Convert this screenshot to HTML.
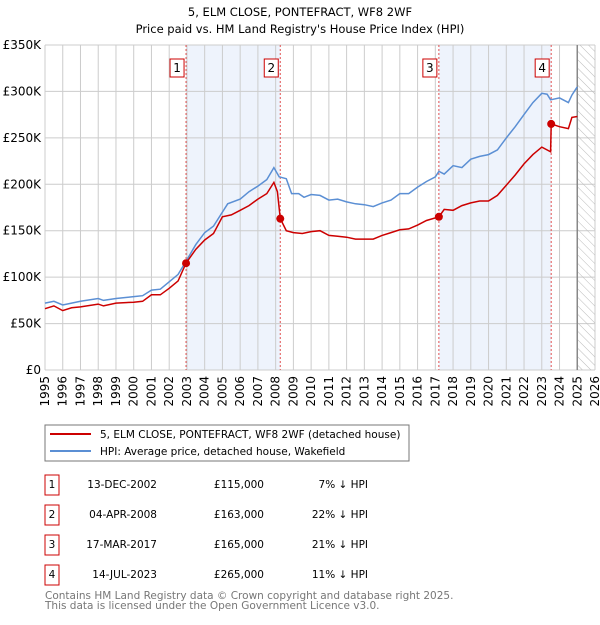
<!DOCTYPE html>
<html><head><meta charset="utf-8"><style>
body{margin:0;background:#fff;font-family:"Liberation Sans","DejaVu Sans",sans-serif}
svg text{font-family:"DejaVu Sans","Liberation Sans",sans-serif}
</style></head><body>
<svg id="c" width="600" height="620" viewBox="0 0 600 620">
<defs><pattern id="hatch" width="6" height="6" patternUnits="userSpaceOnUse" patternTransform="rotate(-45)"><line x1="0" y1="0" x2="0" y2="6" stroke="#bbb" stroke-width="1"/></pattern></defs>
<text x="300" y="16" text-anchor="middle" font-size="11.5">5, ELM CLOSE, PONTEFRACT, WF8 2WF</text>
<text x="300" y="33" text-anchor="middle" font-size="11.5">Price paid vs. HM Land Registry's House Price Index (HPI)</text>
<g id="plot"></g>
<rect x="45" y="425" width="364" height="36" fill="#fff" stroke="#777"/>
<line x1="50" y1="434" x2="91" y2="434" stroke="#cc0000" stroke-width="2"/>
<text x="100" y="438" font-size="10.5">5, ELM CLOSE, PONTEFRACT, WF8 2WF (detached house)</text>
<line x1="50" y1="451" x2="91" y2="451" stroke="#5b8fd4" stroke-width="2"/>
<text x="100" y="455" font-size="10.5">HPI: Average price, detached house, Wakefield</text>
<g id="tbl" font-size="10.5"></g>
<text x="45" y="599" font-size="10.5" fill="#777">Contains HM Land Registry data © Crown copyright and database right 2025.</text>
<text x="45" y="609" font-size="10.5" fill="#777">This data is licensed under the Open Government Licence v3.0.</text>
</svg>
<script>
const hpiYears=[1995,1995.5,1996,1996.5,1997,1998,1998.3,1999,2000,2000.5,2001,2001.5,2002,2002.5,2002.95,2003.5,2004,2004.5,2005,2005.3,2006,2006.5,2007,2007.5,2007.9,2008.2,2008.6,2008.9,2009.3,2009.6,2010,2010.5,2011,2011.5,2012,2012.5,2013,2013.5,2014,2014.5,2015,2015.5,2016,2016.5,2017,2017.2,2017.5,2018,2018.5,2019,2019.5,2020,2020.5,2021,2021.5,2022,2022.5,2023,2023.3,2023.5,2024,2024.5,2024.7,2025];
const hpiValues=[72,74,70,72,74,77,75,77,79,80,86,87,95,103,117,135,148,155,170,179,184,192,198,205,218,208,206,190,190,186,189,188,183,184,181,179,178,176,180,183,190,190,197,203,208,214,211,220,218,227,230,232,237,250,262,275,288,298,297,291,293,288,296,305];
const priceYears=[1995,1995.5,1996,1996.5,1997,1998,1998.3,1999,2000,2000.5,2001,2001.5,2002,2002.5,2002.95,2003.5,2004,2004.5,2005,2005.5,2006,2006.5,2007,2007.5,2007.9,2008.1,2008.26,2008.6,2009,2009.5,2010,2010.5,2011,2011.5,2012,2012.5,2013,2013.5,2014,2014.5,2015,2015.5,2016,2016.5,2017.2,2017.5,2018,2018.5,2019,2019.5,2020,2020.5,2021,2021.5,2022,2022.5,2023,2023.5,2023.53,2024,2024.5,2024.7,2025];
const priceValues=[66,69,64,67,68,71,69,72,73,74,81,81,88,96,115,130,140,147,165,167,172,177,184,190,202,192,163,150,148,147,149,150,145,144,143,141,141,141,145,148,151,152,156,161,165,173,172,177,180,182,182,188,199,210,222,232,240,235,265,262,260,272,273];
const saleYears=[2002.95,2008.26,2017.2,2023.53];
const saleValues=[115,163,165,265];
const saleLabels=["1","2","3","4"];
const saleDates=["13-DEC-2002","04-APR-2008","17-MAR-2017","14-JUL-2023"];
const salePrices=["£115,000","£163,000","£165,000","£265,000"];
const saleHpi=["7% ↓ HPI","22% ↓ HPI","21% ↓ HPI","11% ↓ HPI"];
const yTicks=[0,50,100,150,200,250,300,350];
const yTickLabels=["£0","£50K","£100K","£150K","£200K","£250K","£300K","£350K"];
const xTicks=[1995,1996,1997,1998,1999,2000,2001,2002,2003,2004,2005,2006,2007,2008,2009,2010,2011,2012,2013,2014,2015,2016,2017,2018,2019,2020,2021,2022,2023,2024,2025,2026];
const dataEnd=2025;
const X0=45,X1=595,Y0=370,Y1=45;
const xs=y=>X0+(y-1995)/(2026-1995)*(X1-X0);
const ys=v=>Y0-v/350*(Y0-Y1);
const NS="http://www.w3.org/2000/svg";
const plot=document.getElementById('plot');
function mk(tag,at,parent){const e=document.createElementNS(NS,tag);for(const k in at)e.setAttribute(k,at[k]);(parent||plot).appendChild(e);return e;}
for(let i=0;i<saleYears.length;i+=2){
const r=mk('rect',{x:xs(saleYears[i]),y:Y1,width:xs(saleYears[i+1])-xs(saleYears[i]),height:Y0-Y1,fill:'#eef3fc'});

}
xTicks.forEach(t=>{const l=mk('line',{x1:xs(t),x2:xs(t),y1:Y1,y2:Y0,stroke:'#ccc','stroke-width':1});


const tx=mk('text',{x:0,y:0,'font-size':12,'text-anchor':'end',transform:`translate(${xs(t)+4},${Y0+6}) rotate(-90)`});tx.textContent=t;

});
yTicks.forEach((t,i)=>{const l=mk('line',{x1:X0,x2:X1,y1:ys(t),y2:ys(t),stroke:'#ccc','stroke-width':1});


const tx=mk('text',{x:X0-4,y:ys(t)+4,'font-size':12,'text-anchor':'end'});tx.textContent=yTickLabels[i];

});
const h=mk('rect',{x:xs(dataEnd),y:Y1,width:X1-xs(dataEnd),height:Y0-Y1,fill:'url(#hatch)'});


const hl=mk('line',{x1:xs(dataEnd),x2:xs(dataEnd),y1:Y1,y2:Y0,stroke:'#888','stroke-width':1.5});


saleYears.forEach((s,i)=>{const l=mk('line',{x1:xs(s),x2:xs(s),y1:Y1,y2:Y0,stroke:'#e05050','stroke-width':1,'stroke-dasharray':'2,2'});


const g=mk('g',{});


mk('rect',{x:xs(s)-16,y:59,width:14,height:18,fill:'#fff',stroke:'#cc0000'},g);
const t=mk('text',{x:xs(s)-9,y:72,'font-size':12,'text-anchor':'middle'},g);t.textContent=saleLabels[i];});
const path=(xa,va)=>xa.map((y,i)=>(i?'L':'M')+xs(y).toFixed(1)+','+ys(va[i]).toFixed(1)).join('');
const hp=mk('path',{d:path(hpiYears,hpiValues),fill:'none',stroke:'#5b8fd4','stroke-width':1.5});


const pp=mk('path',{d:path(priceYears,priceValues),fill:'none',stroke:'#cc0000','stroke-width':1.5});


saleYears.forEach((s,i)=>{const c=mk('circle',{cx:xs(s),cy:ys(saleValues[i]),r:4,fill:'#cc0000'});

});
const tbl=document.getElementById('tbl');
saleLabels.forEach((lab,i)=>{const y=475+i*30;
const g=mk('g',{},tbl);


mk('rect',{x:45,y:y,width:14,height:20,fill:'#fff',stroke:'#cc0000'},g);
const a=mk('text',{x:52,y:y+13},g);a.setAttribute('text-anchor','middle');a.textContent=lab;
const b=mk('text',{x:157,y:y+13,'text-anchor':'end'},g);b.textContent=saleDates[i];
const c=mk('text',{x:264,y:y+13,'text-anchor':'end'},g);c.textContent=salePrices[i];
const d=mk('text',{x:368,y:y+13,'text-anchor':'end'},g);d.textContent=saleHpi[i];});
</script>
</body></html>
